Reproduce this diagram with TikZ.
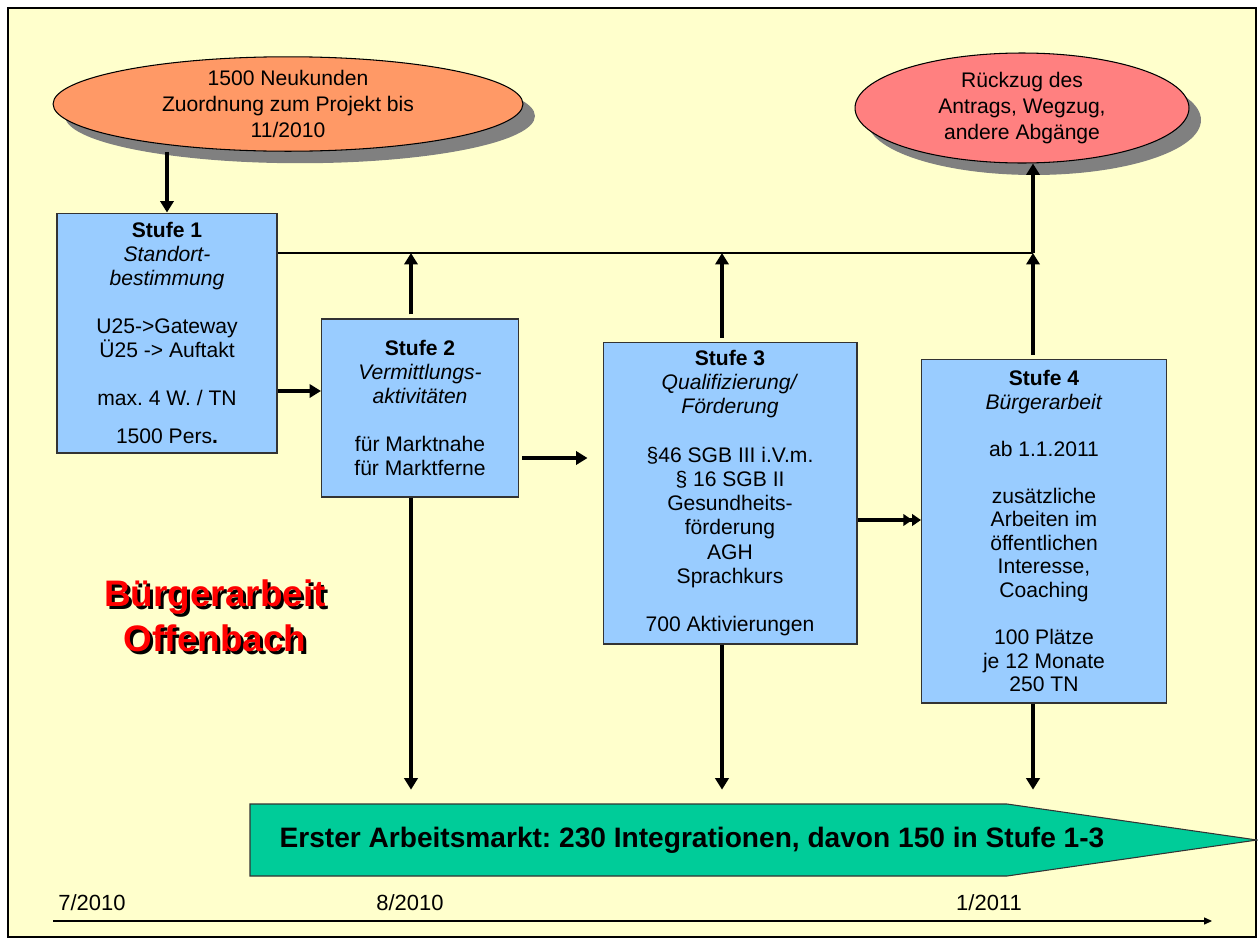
\documentclass[tikz,border=0pt]{standalone}
\usepackage{fontspec}
\setmainfont{Liberation Sans}
\frenchspacing
\usetikzlibrary{arrows.meta,shapes.geometric,shadows}
\definecolor{bgyellow}{HTML}{FFFFCC}
\definecolor{boxblue}{HTML}{99CCFF}
\definecolor{ovalorange}{HTML}{FF9966}
\definecolor{ovalred}{HTML}{FF8080}
\definecolor{markgreen}{HTML}{00CC99}
\tikzset{>={Triangle[length=6.5pt,width=7.5pt]},
  stufe/.style={draw=black!80, line width=0.6pt, fill=boxblue, align=center, inner sep=0pt,
    font=\fontsize{12}{13.6}\selectfont},
  oval/.style={ellipse, draw=black, line width=0.6pt, align=center, inner sep=0pt,
    font=\fontsize{12}{14.6}\selectfont,
    drop shadow={shadow xshift=0.24cm, shadow yshift=-0.24cm, fill=black!50, opacity=1}},
  fat/.style={->, line width=2.3pt},
  hline/.style={line width=0.9pt},
  titel/.style={align=center, font=\fontsize{21}{25.5}\selectfont\bfseries},
  datum/.style={font=\fontsize{12.5}{14}\selectfont}}

\begin{document}
\begin{tikzpicture}[x=0.02cm,y=-0.02cm]
  \useasboundingbox (0,0) rectangle (1258,940);
  \fill[white] (0,0) rectangle (1258,940);
  \draw[line width=1.4pt, fill=bgyellow] (8,8) rectangle (1256,937);

  % ovals
  \node[oval, fill=ovalorange, minimum width=9.4cm, minimum height=1.88cm] (neu) at (288,104)
    {1500 Neukunden\\Zuordnung zum Projekt bis\\11/2010};
  \node[oval, fill=ovalred, minimum width=6.68cm, minimum height=2.2cm] (weg) at (1022,108)
    {Rückzug des\\Antrags, Wegzug,\\andere Abgänge};

  % stufen
  \node[stufe, minimum width=4.4cm, minimum height=4.8cm] (s1) at (167,333)
    {\textbf{Stufe 1}\\\textit{Standort-}\\\textit{bestimmung}\\[\baselineskip]
     U25->Gateway\\Ü25 -> Auftakt\\[\baselineskip] max. 4 W. / TN\\[8pt] 1500 Pers\textbf{.}};
  \node[stufe, minimum width=3.94cm, minimum height=3.56cm] (s2) at (420,408)
    {\textbf{Stufe 2}\\\textit{Vermittlungs-}\\\textit{aktivitäten}\\[\baselineskip]
     für Marktnahe\\für Marktferne};
  \node[stufe, minimum width=5.08cm, minimum height=6.04cm, font=\fontsize{12}{13.8}\selectfont] (s3) at (730,493)
    {\textbf{Stufe 3}\\\textit{Qualifizierung/}\\\textit{Förderung}\\[\baselineskip]
     §46 SGB III i.V.m.\\§ 16 SGB II\\Gesundheits-\\förderung\\AGH\\Sprachkurs\\[\baselineskip]
     700 Aktivierungen};
  \node[stufe, minimum width=4.9cm, minimum height=6.88cm, font=\fontsize{12}{13.4}\selectfont] (s4) at (1044,531)
    {\textbf{Stufe 4}\\\textit{Bürgerarbeit}\\[\baselineskip] ab 1.1.2011\\[\baselineskip]
     zusätzliche\\Arbeiten im\\öffentlichen\\Interesse,\\Coaching\\[\baselineskip]
     100 Plätze\\je 12 Monate\\250 TN};

  % erster arbeitsmarkt
  \draw[draw=black!80, line width=0.6pt, fill=markgreen] (250,804) -- (1007,804) -- (1257,840)
    -- (1007,876) -- (250,876) -- cycle;
  \node[minimum height=1.44cm, font=\fontsize{16}{18}\selectfont\bfseries] (markt) at (692,840)
    {Erster Arbeitsmarkt: 230 Integrationen, davon 150 in Stufe 1-3};

  % verbindungen
  \coordinate (j2) at (411,253);
  \coordinate (j3) at (722,253);
  \coordinate (j4) at (1033,253);
  \draw[hline] (s1.east |- j2) -- (j4);
  \draw[fat, line width=2pt] (neu.south -| s1.north) -- (s1.north);
  \draw[fat] (s1.east |- 0,391) -- (s2.west |- 0,391);
  \draw[fat, shorten <=0.06cm, shorten >=0.3cm] (s2.east |- 0,458) -- (s3.west |- 0,458);
  \draw[line width=2.3pt, -{Triangle[length=5pt,width=6.5pt]Triangle[length=5pt,width=6.5pt]}]
    (s3.east |- 0,520) -- (s4.west |- 0,520);
  \draw[fat, shorten <=0.08cm] (s2.north -| j2) -- (j2);
  \draw[fat, shorten <=0.08cm] (s3.north -| j3) -- (j3);
  \draw[fat, shorten <=0.08cm] (s4.north -| j4) -- (j4);
  \draw[fat] (j4) -- (j4 |- weg.south);
  \draw[fat, shorten >=0.28cm] (s2.south -| j2) -- (j2 |- markt.north);
  \draw[fat, shorten >=0.28cm] (s3.south -| j3) -- (j3 |- markt.north);
  \draw[fat, shorten >=0.28cm] (s4.south -| j4) -- (j4 |- markt.north);

  % titel
  \node[titel, text=black] (titelsh) at (218,619) {Bürgerarbeit\\Offenbach};
  \node[titel, text=red] (titel) at (215,616) {Bürgerarbeit\\Offenbach};

  % zeitachse
  \coordinate (t0) at (53,921);
  \coordinate (t1) at (1212,921);
  \draw[line width=0.6pt, -{Triangle[length=4.5pt,width=4pt]}] (t0) -- (t1);
  \node[datum] (d1) at (92,903) {7/2010};
  \node[datum] (d2) at (410,903) {8/2010};
  \node[datum] (d3) at (989,903) {1/2011};
\end{tikzpicture}
\end{document}
